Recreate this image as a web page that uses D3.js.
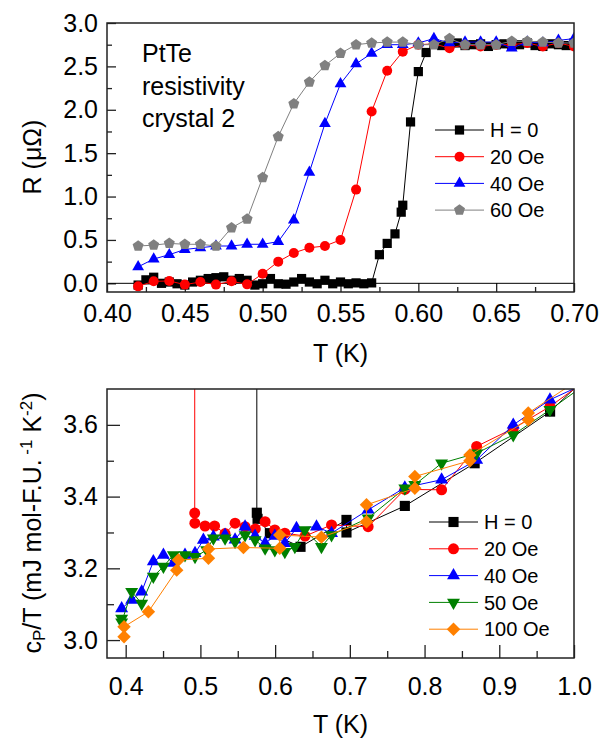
<!DOCTYPE html>
<html>
<head>
<meta charset="utf-8">
<script src="https://cdn.jsdelivr.net/npm/d3@7"></script>
<style>
  body { margin: 0; background: #fff; }
  svg { display: block; font-family: "Liberation Sans", Arial, sans-serif; }
</style>
</head>
<body>
<svg id="chart" width="603" height="747"></svg>
<script>
// ---- top panel: resistance vs T ----
const tTop = [0.42, 0.43, 0.44, 0.45, 0.46, 0.47, 0.48, 0.49, 0.50, 0.51, 0.52, 0.53, 0.54, 0.55,
  0.56, 0.57, 0.58, 0.59, 0.60, 0.61, 0.62, 0.63, 0.64, 0.65, 0.66, 0.67, 0.68, 0.69, 0.70];
const r20 = [-0.035, 0.023, 0.027, -0.015, 0.015, -0.015, 0.023, -0.012, 0.11, 0.25, 0.35, 0.41, 0.43, 0.50,
  1.08, 1.98, 2.45, 2.67, 2.75, 2.76, 2.71, 2.75, 2.73, 2.75, 2.75, 2.77, 2.73, 2.77, 2.73];
const r40 = [0.19, 0.28, 0.33, 0.39, 0.41, 0.43, 0.43, 0.45, 0.45, 0.48, 0.73, 1.28, 1.84, 2.30,
  2.53, 2.65, 2.75, 2.75, 2.77, 2.82, 2.77, 2.78, 2.78, 2.78, 2.71, 2.78, 2.77, 2.80, 2.82];
const r60 = [0.43, 0.44, 0.46, 0.45, 0.45, 0.43, 0.64, 0.74, 1.22, 1.69, 2.07, 2.32, 2.51, 2.65,
  2.75, 2.77, 2.78, 2.78, 2.75, 2.75, 2.82, 2.75, 2.75, 2.75, 2.79, 2.79, 2.78, 2.77, 2.77];
const tH0 = [0.420, 0.425, 0.430, 0.435, 0.440, 0.445, 0.450, 0.455, 0.460, 0.465, 0.470, 0.475,
  0.480, 0.485, 0.490, 0.495, 0.500, 0.505, 0.510, 0.515, 0.520, 0.525, 0.530, 0.535, 0.540,
  0.545, 0.550, 0.555, 0.560, 0.565, 0.570, 0.575, 0.580, 0.585, 0.589, 0.590, 0.595, 0.600,
  0.605, 0.610, 0.615, 0.620, 0.625, 0.630, 0.635, 0.640, 0.645, 0.650, 0.655, 0.660, 0.665,
  0.670, 0.675, 0.680, 0.685, 0.690, 0.695, 0.700];
const r0 = [-0.02, 0.04, 0.07, 0.00, 0.015, -0.005, -0.02, 0.015, 0.035, 0.055, 0.065, 0.075,
  0.035, 0.055, 0.035, -0.02, -0.005, 0.055, -0.005, -0.01, 0.015, 0.055, 0.015, -0.005, 0.035,
  -0.005, 0.015, -0.005, 0.005, -0.005, 0.005, 0.33, 0.46, 0.57, 0.82, 0.90, 1.86, 2.44,
  2.66, 2.76, 2.74, 2.75, 2.77, 2.74, 2.75, 2.76, 2.73, 2.75, 2.76, 2.74, 2.75,
  2.77, 2.74, 2.73, 2.76, 2.75, 2.74, 2.77];

// ---- bottom panel: specific heat cP/T vs T ----
const tC0 = [0.5755, 0.5755, 0.5765, 0.593, 0.634, 0.6955, 0.6955, 0.7736, 0.867, 0.968, 1.02];
const c0 = [4.5, 3.355, 3.338, 3.298, 3.26, 3.335, 3.30, 3.374, 3.493, 3.637, 3.74];
const tC20 = [0.4924, 0.4924, 0.4926, 0.5062, 0.519, 0.533, 0.5464, 0.5598, 0.5735, 0.5866, 0.5996,
  0.613, 0.64, 0.6755, 0.7245, 0.7736, 0.8228, 0.8697, 0.9187, 0.9678, 1.02];
const c20 = [4.5, 3.354, 3.326, 3.318, 3.318, 3.297, 3.326, 3.316, 3.31, 3.33, 3.307,
  3.298, 3.29, 3.321, 3.316, 3.42, 3.419, 3.54, 3.59, 3.651, 3.73];
const tC40 = [0.3946, 0.408, 0.4214, 0.437, 0.4505, 0.4639, 0.4794, 0.4928, 0.504, 0.5174, 0.533,
  0.5464, 0.5598, 0.5732, 0.5866, 0.5996, 0.613, 0.6286, 0.6554, 0.6755, 0.7245, 0.7736, 0.8228,
  0.8697, 0.9187, 0.9678, 1.02];
const c40 = [3.088, 3.112, 3.135, 3.219, 3.237, 3.215, 3.237, 3.242, 3.279, 3.288, 3.293,
  3.28, 3.316, 3.29, 3.27, 3.29, 3.27, 3.312, 3.316, 3.298, 3.363, 3.425, 3.447,
  3.502, 3.60, 3.67, 3.72];
const tC50 = [0.3946, 0.3946, 0.408, 0.4214, 0.437, 0.4505, 0.4639, 0.4794, 0.4928, 0.5084, 0.5174,
  0.533, 0.5464, 0.5598, 0.5732, 0.5866, 0.5996, 0.613, 0.6264, 0.6397, 0.662, 0.6755, 0.7245,
  0.7736, 0.787, 0.8228, 0.8697, 0.9187, 0.9678, 1.02];
const c50 = [3.06, 3.05, 3.135, 3.102, 3.177, 3.205, 3.237, 3.237, 3.232, 3.251, 3.284,
  3.284, 3.274, 3.293, 3.279, 3.256, 3.251, 3.246, 3.26, 3.307, 3.26, 3.293, 3.34,
  3.423, 3.433, 3.493, 3.521, 3.572, 3.642, 3.72];
const tC100 = [0.3978, 0.3978, 0.4304, 0.4683, 0.4705, 0.5108, 0.5108, 0.5576, 0.6062, 0.6062,
  0.662, 0.7223, 0.7223, 0.787, 0.787, 0.8607, 0.8607, 0.9388, 0.9388, 1.02];
const c100 = [3.009, 3.037, 3.079, 3.195, 3.223, 3.228, 3.254, 3.258, 3.256, 3.293,
  3.287, 3.33, 3.377, 3.423, 3.456, 3.50, 3.516, 3.614, 3.633, 3.745];

const zip = (xs, ys) => xs.map((v, i) => [v, ys[i]]);

const svg = d3.select('#chart');

function pentagon(r) {
  const pts = [0, 1, 2, 3, 4].map((i) => {
    const a = -Math.PI / 2 + (i * 2 * Math.PI) / 5;
    return [r * Math.cos(a), r * Math.sin(a)];
  });
  return 'M' + pts.join('L') + 'Z';
}

// marker shape -> [path, rotation]
function marker(shape, s) {
  if (shape === 'square') return [d3.symbol(d3.symbolSquare, s * s * 0.85)(), 0];
  if (shape === 'circle') return [d3.symbol(d3.symbolCircle, Math.PI * s * s / 4)(), 0];
  if (shape === 'up') return [d3.symbol(d3.symbolTriangle, s * s * 0.6)(), 0];
  if (shape === 'down') return [d3.symbol(d3.symbolTriangle, s * s * 0.6)(), 180];
  if (shape === 'diamond') return [d3.symbol(d3.symbolSquare, s * s * 0.75)(), 45];
  return [pentagon(s * 0.58), 0];
}

function drawPanel(cfg) {
  const { left, right, top, bottom } = cfg.box;
  const x = d3.scaleLinear().domain(cfg.xDomain).range([left, right]);
  const y = d3.scaleLinear().domain(cfg.yDomain).range([bottom, top]);
  const g = svg.append('g');

  const clipId = 'clip-' + cfg.id;
  svg.append('clipPath').attr('id', clipId)
    .append('rect').attr('x', left).attr('y', top)
    .attr('width', right - left).attr('height', bottom - top);

  // minor ticks
  g.append('g').attr('transform', `translate(0,${bottom})`)
    .call(d3.axisBottom(x).tickValues(cfg.xMinor).tickSizeInner(-cfg.minorLen).tickSizeOuter(0).tickFormat(''))
    .call((a) => a.select('.domain').remove());
  g.append('g').attr('transform', `translate(${left},0)`)
    .call(d3.axisLeft(y).tickValues(cfg.yMinor).tickSizeInner(-cfg.minorLen).tickSizeOuter(0).tickFormat(''))
    .call((a) => a.select('.domain').remove());

  // major ticks + labels
  const xAxis = g.append('g').attr('transform', `translate(0,${bottom})`)
    .call(d3.axisBottom(x).tickValues(cfg.xMajor).tickSizeInner(-cfg.majorLen).tickSizeOuter(0)
      .tickPadding(cfg.xPad).tickFormat(d3.format(cfg.xFmt)));
  const yAxis = g.append('g').attr('transform', `translate(${left},0)`)
    .call(d3.axisLeft(y).tickValues(cfg.yMajor).tickSizeInner(-cfg.majorLen).tickSizeOuter(0)
      .tickPadding(9).tickFormat(d3.format(cfg.yFmt)));
  [xAxis, yAxis].forEach((a) => {
    a.select('.domain').remove();
    a.selectAll('text').attr('font-size', 25).attr('fill', '#000')
      .attr('font-family', '"Liberation Sans", Arial, sans-serif');
  });
  g.selectAll('.tick line').attr('stroke', '#222').attr('stroke-width', 1.3);

  if (cfg.zeroLine) {
    g.append('line').attr('x1', left).attr('x2', right)
      .attr('y1', y(0)).attr('y2', y(0))
      .attr('stroke', '#000').attr('stroke-width', 1);
  }

  // series
  const data = g.append('g').attr('clip-path', `url(#${clipId})`);
  const line = d3.line().x((d) => x(d[0])).y((d) => y(d[1]));
  cfg.series.forEach((s) => {
    const pts = zip(s.t, s.v);
    data.append('path').datum(pts).attr('d', line)
      .attr('fill', 'none').attr('stroke', s.color).attr('stroke-width', 1);
    const [p, rot] = marker(s.shape, cfg.mSize);
    data.append('g').selectAll('path').data(pts).join('path')
      .attr('d', p)
      .attr('transform', (d) => `translate(${x(d[0])},${y(d[1])}) rotate(${rot})`)
      .attr('fill', s.color);
  });

  // frame
  g.append('rect').attr('x', left).attr('y', top)
    .attr('width', right - left).attr('height', bottom - top)
    .attr('fill', 'none').attr('stroke', '#222').attr('stroke-width', 1.5);

  // legend
  const lg = g.append('g');
  cfg.series.forEach((s, i) => {
    const yy = cfg.legend.y0 + i * cfg.legend.dy;
    lg.append('line').attr('x1', cfg.legend.x0).attr('x2', cfg.legend.x0 + 49)
      .attr('y1', yy).attr('y2', yy).attr('stroke', s.color).attr('stroke-width', 1);
    const [p, rot] = marker(s.shape, cfg.mSize);
    lg.append('path').attr('d', p)
      .attr('transform', `translate(${cfg.legend.x0 + 24.5},${yy}) rotate(${rot})`)
      .attr('fill', s.color);
    lg.append('text').attr('x', cfg.legend.x0 + 55).attr('y', yy).attr('dy', '0.36em')
      .attr('font-size', 20).text(s.name);
  });

  // axis titles
  g.append('text').attr('x', (left + right) / 2).attr('y', cfg.xTitleY)
    .attr('text-anchor', 'middle').attr('font-size', 25).text('T (K)');

  return { x, y, g };
}

drawPanel({
  id: 'top',
  box: { left: 107, right: 574, top: 23, bottom: 292 },
  xDomain: [0.4, 0.7],
  yDomain: [-0.1, 3.0],
  xMajor: [0.40, 0.45, 0.50, 0.55, 0.60, 0.65, 0.70],
  xMinor: [0.425, 0.475, 0.525, 0.575, 0.625, 0.675],
  yMajor: [0, 0.5, 1.0, 1.5, 2.0, 2.5, 3.0],
  yMinor: [0.25, 0.75, 1.25, 1.75, 2.25, 2.75],
  xFmt: '.2f', yFmt: '.1f',
  majorLen: 9, minorLen: 5, xPad: 12,
  zeroLine: true,
  mSize: 10,
  xTitleY: 362,
  legend: { x0: 435, y0: 130, dy: 26.7 },
  series: [
    { name: 'H = 0', t: tH0, v: r0, color: '#000000', shape: 'square' },
    { name: '20 Oe', t: tTop, v: r20, color: '#ff0000', shape: 'circle' },
    { name: '40 Oe', t: tTop, v: r40, color: '#0000ff', shape: 'up' },
    { name: '60 Oe', t: tTop, v: r60, color: '#808080', shape: 'pent' },
  ],
});

drawPanel({
  id: 'bot',
  box: { left: 107, right: 574, top: 389, bottom: 658 },
  xDomain: [0.375, 1.0],
  yDomain: [2.95, 3.70],
  xMajor: [0.4, 0.5, 0.6, 0.7, 0.8, 0.9, 1.0],
  xMinor: [0.45, 0.55, 0.65, 0.75, 0.85, 0.95],
  yMajor: [3.0, 3.2, 3.4, 3.6],
  yMinor: [3.1, 3.3, 3.5],
  xFmt: '.1f', yFmt: '.1f',
  majorLen: 13, minorLen: 7, xPad: 19,
  zeroLine: false,
  mSize: 11,
  xTitleY: 733,
  legend: { x0: 429, y0: 522, dy: 26.8 },
  series: [
    { name: 'H = 0', t: tC0, v: c0, color: '#000000', shape: 'square' },
    { name: '20 Oe', t: tC20, v: c20, color: '#ff0000', shape: 'circle' },
    { name: '40 Oe', t: tC40, v: c40, color: '#0000ff', shape: 'up' },
    { name: '50 Oe', t: tC50, v: c50, color: '#008000', shape: 'down' },
    { name: '100 Oe', t: tC100, v: c100, color: '#ff8000', shape: 'diamond' },
  ],
});

// annotation in the top panel
const note = svg.append('text').attr('font-size', 25);
['PtTe', 'resistivity', 'crystal 2'].forEach((s, i) => {
  note.append('tspan').attr('x', 142).attr('y', 62 + i * 32.5).text(s);
});

// y titles
svg.append('text').attr('transform', 'translate(41,157) rotate(-90)')
  .attr('text-anchor', 'middle').attr('font-size', 25).text('R (\u03bc\u03a9)');

const yt = svg.append('text').attr('transform', 'translate(41,523) rotate(-90)')
  .attr('text-anchor', 'middle').attr('font-size', 25);
yt.append('tspan').text('c');
yt.append('tspan').attr('font-size', 17).attr('baseline-shift', '-25%').text('P');
yt.append('tspan').text('/T (mJ mol-F.U.');
yt.append('tspan').attr('font-size', 17).attr('baseline-shift', '55%').text(' -1');
yt.append('tspan').text(' K');
yt.append('tspan').attr('font-size', 17).attr('baseline-shift', '55%').text('-2');
yt.append('tspan').text(')');
</script>
</body>
</html>
